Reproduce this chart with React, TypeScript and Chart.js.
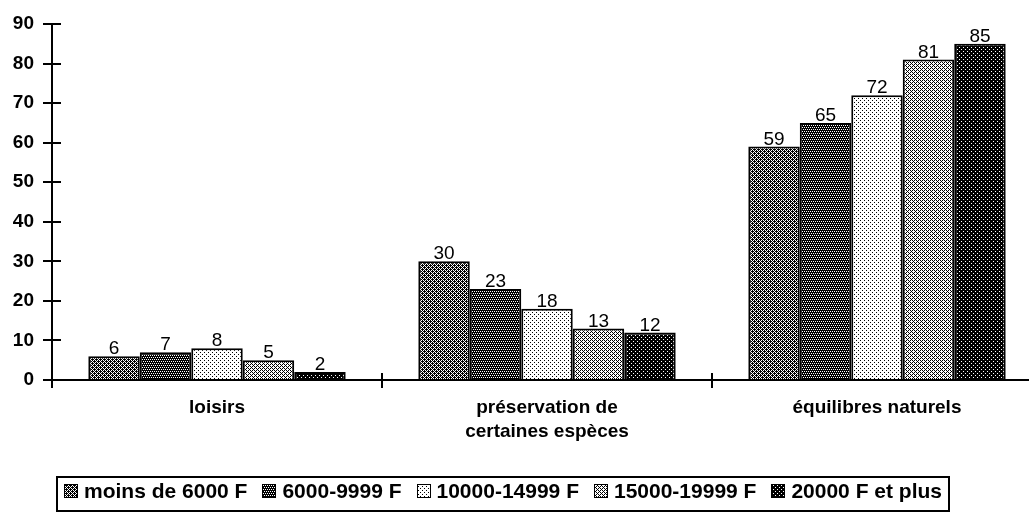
import React, { useEffect, useRef } from "react";
import { Chart, registerables } from "chart.js";

Chart.register(...registerables);

// ---- data ----
const categories: (string | string[])[] = [
  "loisirs",
  ["préservation de", "certaines espèces"],
  "équilibres naturels",
];
const seriesLabels = [
  "moins de 6000 F",
  "6000-9999 F",
  "10000-14999 F",
  "15000-19999 F",
  "20000 F et plus",
];
const moinsDe6000 = [6, 30, 59];
const de6000a9999 = [7, 23, 65];
const de10000a14999 = [8, 18, 72];
const de15000a19999 = [5, 13, 81];
const plusDe20000 = [2, 12, 85];
const yMin = 0;
const yMax = 90;
const yStep = 10;

const FONT = "'Liberation Sans', Arial, Helvetica, sans-serif";

// dot patterns (1 = black pixel)
const patternGrids: string[][] = [
  ["1010", "0111", "1010", "1101"],
  ["1111", "1010", "1111", "0101"],
  ["1000", "0000", "0010", "0000"],
  ["1010", "0100", "1010", "0001"],
  ["1111", "1011", "1111", "1110"],
];

function makePattern(grid: string[]): CanvasPattern | string {
  const c = document.createElement("canvas");
  c.width = grid[0].length;
  c.height = grid.length;
  const g = c.getContext("2d");
  if (!g) return "#888";
  g.fillStyle = "#fff";
  g.fillRect(0, 0, c.width, c.height);
  g.fillStyle = "#000";
  grid.forEach((row, y) =>
    row.split("").forEach((ch, x) => {
      if (ch === "1") g.fillRect(x, y, 1, 1);
    })
  );
  const p = g.createPattern(c, "repeat");
  return p || "#888";
}

export default function App() {
  const ref = useRef<HTMLCanvasElement | null>(null);

  useEffect(() => {
    if (!ref.current) return;
    const patterns = patternGrids.map(makePattern);
    const seriesValues = [moinsDe6000, de6000a9999, de10000a14999, de15000a19999, plusDe20000];

    const decorPlugin = {
      id: "decor",
      afterDatasetsDraw(chart: any) {
        const ctx = chart.ctx as CanvasRenderingContext2D;
        const area = chart.chartArea;
        const ys = chart.scales.y;
        const xs = chart.scales.x;
        ctx.save();
        ctx.strokeStyle = "#000";
        ctx.lineWidth = 2;
        // inner y ticks
        for (let v = yMin; v <= yMax; v += yStep) {
          const y = Math.round(ys.getPixelForValue(v));
          ctx.beginPath();
          ctx.moveTo(area.left, y);
          ctx.lineTo(area.left + 9, y);
          ctx.stroke();
        }
        // inner x ticks at category boundaries
        for (let i = 1; i < categories.length; i++) {
          const x = Math.round((xs.getPixelForTick(i - 1) + xs.getPixelForTick(i)) / 2);
          ctx.beginPath();
          ctx.moveTo(x, area.bottom - 7);
          ctx.lineTo(x, area.bottom);
          ctx.stroke();
        }
        // value labels
        ctx.fillStyle = "#000";
        ctx.font = `19px ${FONT}`;
        ctx.textAlign = "center";
        ctx.textBaseline = "alphabetic";
        chart.data.datasets.forEach((ds: any, i: number) => {
          const meta = chart.getDatasetMeta(i);
          meta.data.forEach((bar: any, j: number) => {
            ctx.fillText(String(ds.data[j]), bar.x, bar.y - 2);
          });
        });
        // legend
        ctx.font = `bold 21px ${FONT}`;
        ctx.textAlign = "left";
        ctx.textBaseline = "middle";
        const box = 14;
        const gap = 6;
        const spacing = 15;
        const widths = seriesLabels.map((l) => ctx.measureText(l).width);
        const total =
          widths.reduce((a, b) => a + b, 0) + seriesLabels.length * (box + gap) + (seriesLabels.length - 1) * spacing;
        const cx = 503;
        const cy = 491;
        let x = cx - total / 2;
        ctx.lineWidth = 2;
        ctx.strokeRect(Math.round(x - 7), 477, Math.round(total + 14), 34);
        ctx.lineWidth = 1;
        seriesLabels.forEach((l, i) => {
          ctx.fillStyle = patterns[i] as any;
          ctx.fillRect(Math.round(x), cy - 7, box, box);
          ctx.strokeStyle = "#000";
          ctx.strokeRect(Math.round(x) + 0.5, cy - 7 + 0.5, box - 1, box - 1);
          ctx.fillStyle = "#000";
          ctx.fillText(l, x + box + gap, cy + 1);
          x += box + gap + widths[i] + spacing;
        });
        ctx.restore();
      },
      afterDraw(chart: any) {
        const ctx = chart.ctx as CanvasRenderingContext2D;
        const area = chart.chartArea;
        ctx.save();
        ctx.strokeStyle = "#000";
        ctx.lineWidth = 2;
        ctx.beginPath();
        ctx.moveTo(area.left, area.top);
        ctx.lineTo(area.left, area.bottom + 8);
        ctx.stroke();
        ctx.restore();
      },
    };

    const chart = new Chart(ref.current, {
      type: "bar",
      data: {
        labels: categories as any,
        datasets: seriesLabels.map((label, i) => ({
          label,
          data: seriesValues[i],
          backgroundColor: patterns[i] as any,
          borderColor: "#000",
          borderWidth: 2,
          borderSkipped: "bottom" as any,
          categoryPercentage: 0.78,
          barPercentage: 1.0,
        })),
      },
      options: {
        responsive: false,
        animation: false,
        layout: { padding: { top: 24, left: 0, right: 0, bottom: 0 } },
        plugins: {
          legend: { display: false },
          tooltip: { enabled: false },
        },
        scales: {
          x: {
            afterFit: (s: any) => {
              s.height = 132;
            },
            grid: {
              display: true,
              drawOnChartArea: false,
              drawTicks: true,
              tickLength: 8,
              color: "#000",
              lineWidth: 2,
            },
            border: { display: true, color: "#000", width: 2 },
            ticks: {
              color: "#000",
              font: { family: FONT, size: 19, weight: "bold", lineHeight: 1.25 },
              padding: 8,
              maxRotation: 0,
              autoSkip: false,
            },
          },
          y: {
            min: yMin,
            max: yMax,
            afterFit: (s: any) => {
              s.width = 52;
            },
            grid: {
              display: true,
              drawOnChartArea: false,
              drawTicks: true,
              tickLength: 9,
              color: "#000",
              lineWidth: 2,
            },
            border: { display: true, color: "#000", width: 2 },
            ticks: {
              stepSize: yStep,
              color: "#000",
              font: { family: FONT, size: 19, weight: "bold" },
              padding: 9,
            },
          },
        },
      },
      plugins: [decorPlugin],
    });
    return () => chart.destroy();
  }, []);

  return (
    <div
      style={{
        position: "fixed",
        left: 0,
        top: 0,
        width: 1029,
        height: 512,
        overflow: "hidden",
        background: "#fff",
      }}
    >
      <canvas ref={ref} width={1042} height={512} style={{ width: 1042, height: 512, display: "block" }} />
    </div>
  );
}
